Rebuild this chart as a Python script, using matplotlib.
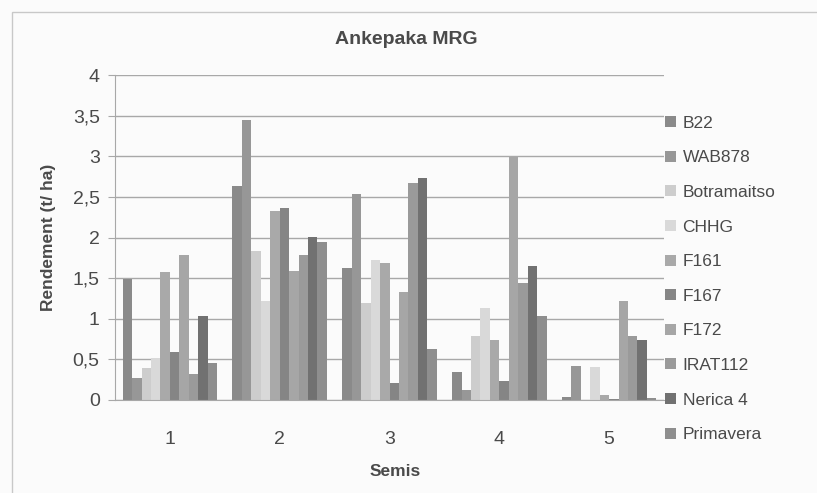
import matplotlib
matplotlib.use('Agg')
import matplotlib.pyplot as plt
import numpy as np

plt.rcParams['font.family'] = ['Liberation Sans', 'DejaVu Sans']

SEMIS = ['1', '2', '3', '4', '5']
VARIETIES = ['B22', 'WAB878', 'Botramaitso', 'CHHG', 'F161',
             'F167', 'F172', 'IRAT112', 'Nerica 4', 'Primavera']
COLORS = ['#8a8a8a', '#979797', '#cdcdcd', '#d9d9d9', '#a9a9a9',
          '#858585', '#a6a6a6', '#9a9a9a', '#717171', '#8e8e8e']

# rendement (t/ha) par variete, pour les semis 1 a 5
B22         = [1.49, 2.63, 1.63, 0.34, 0.04]
WAB878      = [0.27, 3.45, 2.54, 0.12, 0.42]
BOTRAMAITSO = [0.39, 1.84, 1.20, 0.79, 0.00]
CHHG        = [0.52, 1.22, 1.72, 1.13, 0.41]
F161        = [1.58, 2.33, 1.69, 0.74, 0.06]
F167        = [0.59, 2.36, 0.21, 0.23, 0.01]
F172        = [1.78, 1.59, 1.33, 2.99, 1.22]
IRAT112     = [0.32, 1.78, 2.67, 1.44, 0.79]
NERICA4     = [1.04, 2.01, 2.73, 1.65, 0.74]
PRIMAVERA   = [0.45, 1.94, 0.63, 1.03, 0.03]

SERIES = [B22, WAB878, BOTRAMAITSO, CHHG, F161,
          F167, F172, IRAT112, NERICA4, PRIMAVERA]
TEXT = '#4a4a4a'

fig = plt.figure(figsize=(8.17, 4.93), dpi=100)
fig.patch.set_facecolor('#fbfbfb')
# cadre du graphique
fig.add_artist(plt.Rectangle((12 / 817, -0.05), 1.0, 1 - 12 / 493 + 0.05,
                             transform=fig.transFigure, fill=False,
                             edgecolor='#c8c8c8', linewidth=1))

ax = fig.add_axes([115 / 817, 93 / 493, 549 / 817, 325 / 493])
ax.set_facecolor('#fbfbfb')

x = np.arange(len(SEMIS))
width = 0.086
for i, (vals, name, color) in enumerate(zip(SERIES, VARIETIES, COLORS)):
    ax.bar(x + (i - 4.5) * width, vals, width, color=color, label=name,
           linewidth=0)

ax.set_xlim(-0.5, 4.5)
ax.set_ylim(0, 4)
ax.set_yticks(np.arange(0, 4.01, 0.5))
ax.set_yticklabels(['0', '0,5', '1', '1,5', '2', '2,5', '3', '3,5', '4'])
ax.set_xticks(x)
ax.set_xticklabels(SEMIS)
ax.yaxis.grid(True, color='#a8a8a8', linewidth=1)
ax.set_axisbelow(True)
for side in ['top', 'right']:
    ax.spines[side].set_visible(False)
for side in ['left', 'bottom']:
    ax.spines[side].set_color('#a8a8a8')
ax.tick_params(axis='y', colors='#a8a8a8', length=5, labelcolor=TEXT,
               labelsize=14, pad=6)
ax.tick_params(axis='x', length=0, labelcolor=TEXT, labelsize=14, pad=22)

ax.set_title('Ankepaka MRG', fontsize=14, fontweight='bold', color=TEXT,
             pad=22, x=0.53)
ax.set_xlabel('Semis', fontsize=12.5, fontweight='bold', color=TEXT,
              labelpad=12, x=0.51)
ax.set_ylabel('Rendement (t/ ha)', fontsize=12.5, fontweight='bold',
              color=TEXT, labelpad=12)

leg = ax.legend(loc='upper left', bbox_to_anchor=(0.98, 0.912), frameon=False,
                fontsize=12.5, handlelength=0.6, handleheight=0.6,
                handletextpad=0.4, labelspacing=1.13, borderaxespad=0.3)
for t in leg.get_texts():
    t.set_color(TEXT)

plt.savefig('out.png', dpi=100, facecolor=fig.get_facecolor())
